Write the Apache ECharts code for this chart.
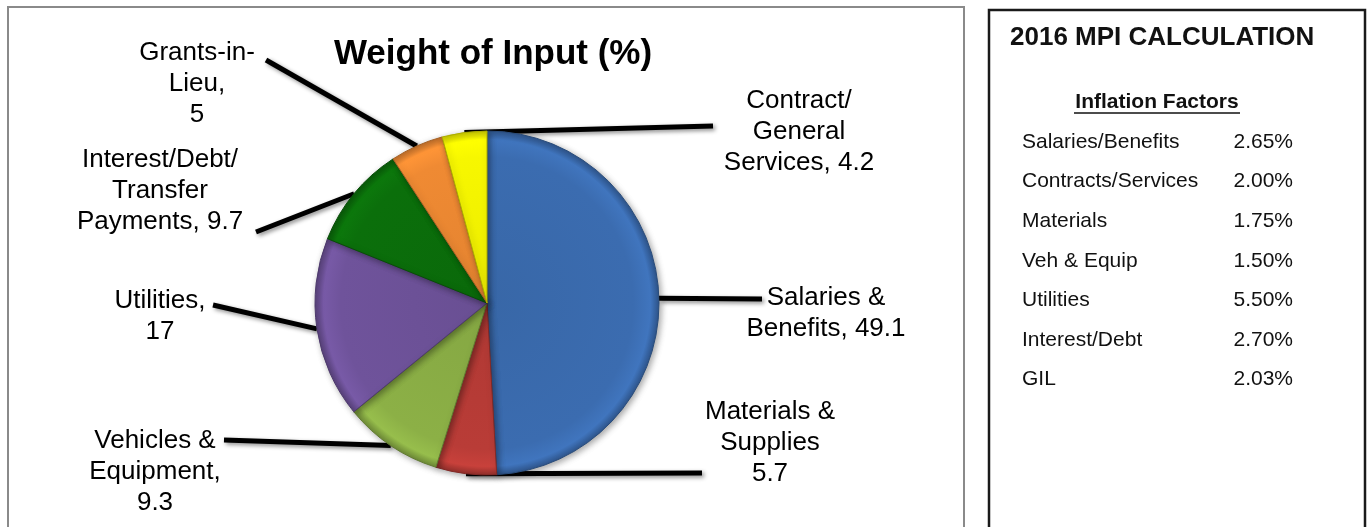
<!DOCTYPE html>
<html>
<head>
<meta charset="UTF-8">
<title>Weight of Input</title>
<script src="https://cdn.jsdelivr.net/npm/echarts@6/dist/echarts.min.js"></script>
<style>
  html, body { margin: 0; padding: 0; background: #fff; }
  #main { width: 1371px; height: 527px; }
</style>
</head>
<body>
<div id="main"></div>
<script type="text/javascript">
// pie data, clockwise from 12 o'clock
var categories = ['Salaries &\nBenefits,', 'Materials &\nSupplies', 'Vehicles &\nEquipment,', 'Utilities,',
                  'Interest/Debt/\nTransfer\nPayments,', 'Grants-in-\nLieu,', 'Contract/\nGeneral\nServices,'];
var weights = [49.1, 5.7, 9.3, 17, 9.7, 5, 4.2];
var valueBreak = [' ', '\n', '\n', '\n', ' ', '\n', ' '];

// inflation factor table
var factorNames = ['Salaries/Benefits', 'Contracts/Services', 'Materials', 'Veh & Equip', 'Utilities', 'Interest/Debt', 'GIL'];
var factorValues = ['2.65%', '2.00%', '1.75%', '1.50%', '5.50%', '2.70%', '2.03%'];

// layout only
var colors = ['#3b6cb0', '#b93c37', '#8cb046', '#6f539b', '#0b6f0b', '#ef8a33', '#f7f700'];
var labelPos = [[826, 313], [770, 443], [155, 472], [160, 316], [160, 191], [197, 84], [799, 132]];
var lineEnd = [[762, 299], [702, 473], [224, 440], [213, 305], [256, 232], [266, 60], [713, 126]];
var pieCenter = [487, 303];
var pieR = 172;

var font = '"Liberation Sans", Arial, sans-serif';

function shade(hex, f) {
  var n = parseInt(hex.slice(1), 16);
  var r = (n >> 16) & 255, g = (n >> 8) & 255, b = n & 255;
  r = Math.max(0, Math.min(255, Math.round(r * f)));
  g = Math.max(0, Math.min(255, Math.round(g * f)));
  b = Math.max(0, Math.min(255, Math.round(b * f)));
  return 'rgb(' + r + ',' + g + ',' + b + ')';
}

var pieData = [];
for (var i = 0; i < weights.length; i++) {
  pieData.push({
    name: categories[i],
    value: weights[i],
    itemStyle: {
      color: {
        type: 'radial', x: pieCenter[0], y: pieCenter[1], r: pieR, global: true,
        colorStops: [
          { offset: 0, color: shade(colors[i], 0.95) },
          { offset: 0.85, color: colors[i] },
          { offset: 0.95, color: shade(colors[i], 1.08) },
          { offset: 1, color: shade(colors[i], 0.8) }
        ]
      },
      borderColor: shade(colors[i], 0.7)
    }
  });
}

var tableGraphics = [
  { type: 'rect', shape: { x: 8, y: 7, width: 956, height: 540 }, style: { fill: 'none', stroke: '#8a8a8a', lineWidth: 2 }, silent: true },
  { type: 'rect', shape: { x: 989, y: 10, width: 376, height: 540 }, style: { fill: 'none', stroke: '#1a1a1a', lineWidth: 2.5 }, silent: true },
  { type: 'text', x: 1010, y: 38, style: { text: '2016 MPI CALCULATION', font: 'bold 26px ' + font, fill: '#111', verticalAlign: 'middle' } },
  { type: 'text', x: 1157, y: 102, style: { text: 'Inflation Factors', font: 'bold 21px ' + font, fill: '#111', align: 'center', verticalAlign: 'middle' } },
  { type: 'line', shape: { x1: 1074, y1: 113, x2: 1240, y2: 113 }, style: { stroke: '#111', lineWidth: 1.5 } }
];
for (var k = 0; k < factorNames.length; k++) {
  var ry = 142 + k * 39.6;
  tableGraphics.push({ type: 'text', x: 1022, y: ry, style: { text: factorNames[k], font: '21px ' + font, fill: '#111', verticalAlign: 'middle' } });
  tableGraphics.push({ type: 'text', x: 1293, y: ry, style: { text: factorValues[k], font: '21px ' + font, fill: '#111', align: 'right', verticalAlign: 'middle' } });
}

var myChart = echarts.init(document.getElementById('main'));
var option = {
  animation: false,
  backgroundColor: '#fff',
  title: {
    text: 'Weight of Input (%)',
    left: 488,
    top: 32,
    textAlign: 'center',
    textStyle: { fontFamily: font, fontWeight: 'bold', fontSize: 35, color: '#000' }
  },
  graphic: tableGraphics,
  series: [{
    type: 'pie',
    center: pieCenter,
    radius: pieR,
    startAngle: 90,
    clockwise: true,
    avoidLabelOverlap: false,
    itemStyle: {
      borderWidth: 1,
      shadowBlur: 6,
      shadowColor: 'rgba(0,0,0,0.35)',
      shadowOffsetX: 2,
      shadowOffsetY: 2
    },
    label: {
      show: true,
      position: 'outside',
      fontFamily: font,
      fontSize: 26,
      lineHeight: 31,
      color: '#000',
      align: 'center',
      formatter: function (p) {
        return p.name + valueBreak[p.dataIndex] + p.value;
      }
    },
    labelLine: {
      show: true,
      smooth: false,
      lineStyle: {
        color: '#000',
        width: 5,
        shadowBlur: 4,
        shadowColor: 'rgba(0,0,0,0.45)',
        shadowOffsetX: 2,
        shadowOffsetY: 2
      }
    },
    labelLayout: function (params) {
      var i = params.dataIndex;
      var start = params.labelLinePoints ? params.labelLinePoints[0] : lineEnd[i];
      return {
        x: labelPos[i][0],
        y: labelPos[i][1],
        align: 'center',
        verticalAlign: 'middle',
        labelLinePoints: [start, lineEnd[i], lineEnd[i]]
      };
    },
    emphasis: { disabled: true },
    data: pieData
  }]
};
myChart.setOption(option);
</script>
</body>
</html>
